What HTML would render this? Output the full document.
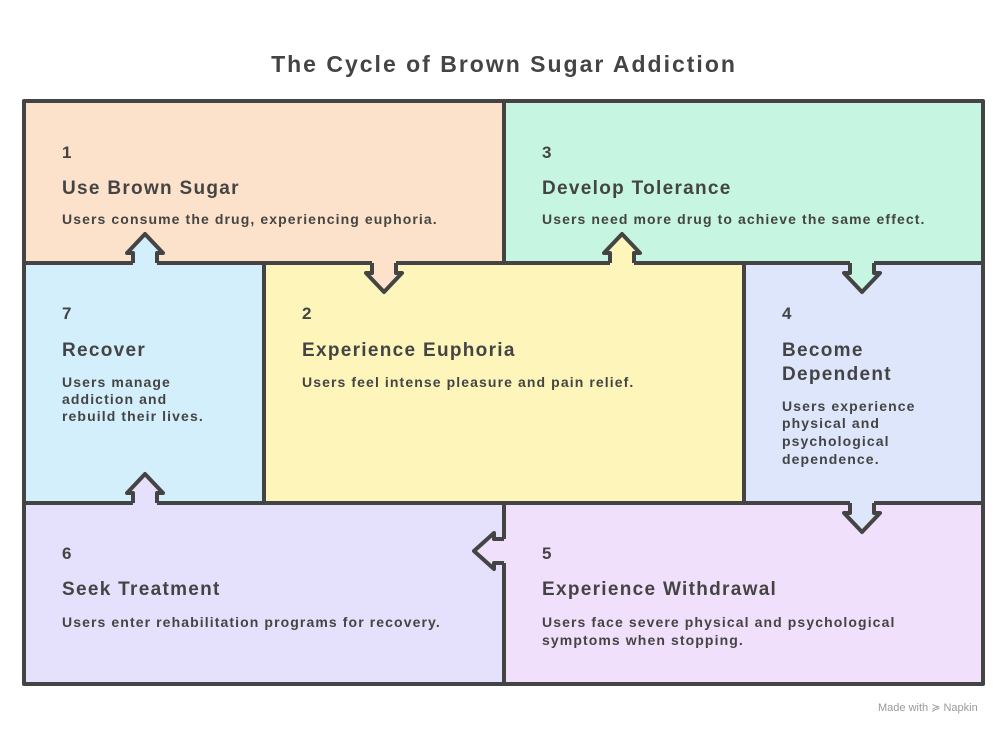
<!DOCTYPE html>
<html><head><meta charset="utf-8"><style>
html,body{margin:0;padding:0;background:#fff;width:1008px;height:732px;overflow:hidden}
svg{display:block}
text{font-family:"Liberation Sans",sans-serif;font-weight:bold;fill:#444}
.n{font-size:17px}.t{font-size:19px;letter-spacing:1.3px}.d{font-size:14px;letter-spacing:1.1px}
</style></head><body>
<svg width="1008" height="732" viewBox="0 0 1008 732">
<text x="504" y="72" text-anchor="middle" style="font-size:23px;letter-spacing:2px">The Cycle of Brown Sugar Addiction</text>
<rect x="24" y="101" width="480" height="162" fill="#fde2cb"/>
<rect x="504" y="101" width="479" height="162" fill="#c6f6e1"/>
<rect x="24" y="263" width="240" height="240" fill="#d2effb"/>
<rect x="264" y="263" width="480" height="240" fill="#fdf5ba"/>
<rect x="744" y="263" width="239" height="240" fill="#dde6fb"/>
<rect x="24" y="503" width="480" height="181" fill="#e5e0fb"/>
<rect x="504" y="503" width="479" height="181" fill="#f1e0fb"/>
<g fill="none" stroke="#444" stroke-width="4" stroke-linejoin="round">
<rect x="24" y="101" width="959" height="583"/>
<line x1="24" y1="263" x2="983" y2="263"/>
<line x1="24" y1="503" x2="983" y2="503"/>
<line x1="504" y1="101" x2="504" y2="263"/>
<line x1="264" y1="263" x2="264" y2="503"/>
<line x1="744" y1="263" x2="744" y2="503"/>
<line x1="504" y1="503" x2="504" y2="684"/>
</g>
<g stroke-linejoin="round">
<polygon fill="#fde2cb" points="372,255 372,273 366,273 384,292 402,273 396,273 396,255"/>
<polyline fill="none" stroke="#444" stroke-width="4" points="372,263 372,273 366,273 384,292 402,273 396,273 396,263"/>
<polygon fill="#c6f6e1" points="850,255 850,273 844,273 862,292 880,273 874,273 874,255"/>
<polyline fill="none" stroke="#444" stroke-width="4" points="850,263 850,273 844,273 862,292 880,273 874,273 874,263"/>
<polygon fill="#dde6fb" points="850,495 850,513 844,513 862,532 880,513 874,513 874,495"/>
<polyline fill="none" stroke="#444" stroke-width="4" points="850,503 850,513 844,513 862,532 880,513 874,513 874,503"/>
<polygon fill="#fdf5ba" points="610,271 610,253 604,253 622,234 640,253 634,253 634,271"/>
<polyline fill="none" stroke="#444" stroke-width="4" points="610,263 610,253 604,253 622,234 640,253 634,253 634,263"/>
<polygon fill="#e5e0fb" points="133,511 133,493 127,493 145,474 163,493 157,493 157,511"/>
<polyline fill="none" stroke="#444" stroke-width="4" points="133,503 133,493 127,493 145,474 163,493 157,493 157,503"/>
<polygon fill="#d2effb" points="133,271 133,253 127,253 145,234 163,253 157,253 157,271"/>
<polyline fill="none" stroke="#444" stroke-width="4" points="133,263 133,253 127,253 145,234 163,253 157,253 157,263"/>
<polygon fill="#f1e0fb" points="512,539 494,539 494,533 474,551 494,569 494,563 512,563"/>
<polyline fill="none" stroke="#444" stroke-width="4" points="504,539 494,539 494,533 474,551 494,569 494,563 504,563"/>
</g>
<text class="n" x="62" y="158">1</text>
<text class="t" x="62" y="194">Use Brown Sugar</text>
<text class="d" x="62" y="224">Users consume the drug, experiencing euphoria.</text>
<text class="n" x="542" y="158">3</text>
<text class="t" x="542" y="194">Develop Tolerance</text>
<text class="d" x="542" y="224">Users need more drug to achieve the same effect.</text>
<text class="n" x="62" y="319">7</text>
<text class="t" x="62" y="356">Recover</text>
<text class="d" x="62" y="387">Users manage</text>
<text class="d" x="62" y="404">addiction and</text>
<text class="d" x="62" y="421">rebuild their lives.</text>
<text class="n" x="302" y="319">2</text>
<text class="t" x="302" y="356">Experience Euphoria</text>
<text class="d" x="302" y="387">Users feel intense pleasure and pain relief.</text>
<text class="n" x="782" y="319">4</text>
<text class="t" x="782" y="356">Become</text>
<text class="t" x="782" y="380">Dependent</text>
<text class="d" x="782" y="411">Users experience</text>
<text class="d" x="782" y="428">physical and</text>
<text class="d" x="782" y="446">psychological</text>
<text class="d" x="782" y="464">dependence.</text>
<text class="n" x="62" y="559">6</text>
<text class="t" x="62" y="595">Seek Treatment</text>
<text class="d" x="62" y="627">Users enter rehabilitation programs for recovery.</text>
<text class="n" x="542" y="559">5</text>
<text class="t" x="542" y="595">Experience Withdrawal</text>
<text class="d" x="542" y="627">Users face severe physical and psychological</text>
<text class="d" x="542" y="645">symptoms when stopping.</text>
<text x="878" y="711" style="font-size:11px;font-weight:normal;fill:#999">Made with ≽ Napkin</text>
</svg>
</body></html>
